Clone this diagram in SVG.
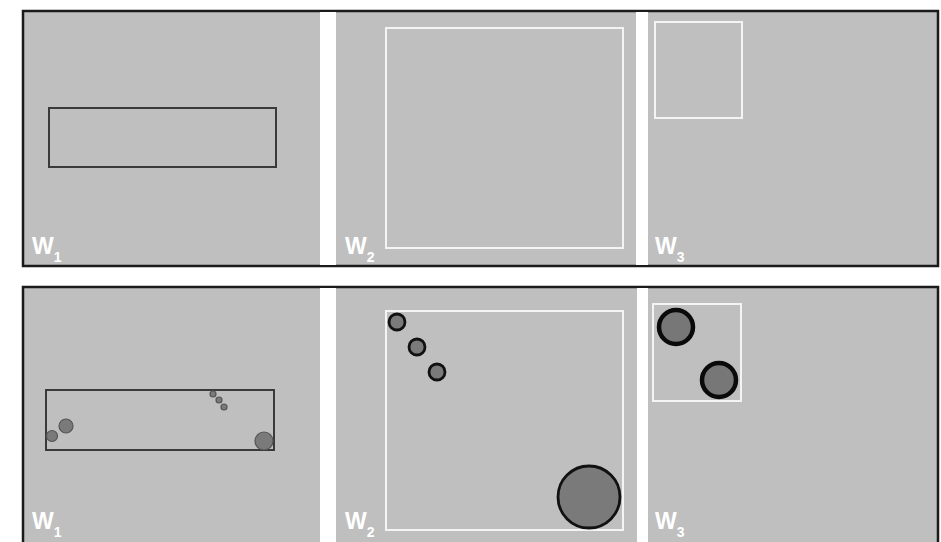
<svg xmlns="http://www.w3.org/2000/svg" width="941" height="542" viewBox="0 0 941 542">
<defs>
<style>
.panel{fill:#bfbfbf;stroke:#1a1a1a;stroke-width:2.5}
.sep{fill:#ffffff}
.dk{fill:none;stroke:#3a3a3a;stroke-width:2}
.wt{fill:none;stroke:#f4f4f4;stroke-width:2}
.lab{font-family:"Liberation Sans",Arial,sans-serif;font-weight:bold;fill:#ffffff}
.cs{fill:#7a7a7a;stroke:#555555;stroke-width:1.2}
.cm{fill:#7a7a7a;stroke:#111111;stroke-width:2.8}
.cb{fill:#777777;stroke:#0a0a0a;stroke-width:4.5}
</style>
</defs>
<rect width="941" height="542" fill="#ffffff"/>
<g id="top-panel">
<rect class="panel" x="23" y="11" width="915" height="255"/>
<rect class="sep" x="320" y="12" width="16" height="253"/>
<rect class="sep" x="636" y="12" width="12" height="253"/>
<rect class="dk" x="49" y="108" width="227" height="59"/>
<rect class="wt" x="386" y="28" width="237" height="220"/>
<rect class="wt" x="655" y="22" width="87" height="96"/>
<text class="lab" x="32" y="254" font-size="23">W<tspan font-size="14" dy="8">1</tspan></text>
<text class="lab" x="345" y="254" font-size="23">W<tspan font-size="14" dy="8">2</tspan></text>
<text class="lab" x="655" y="254" font-size="23">W<tspan font-size="14" dy="8">3</tspan></text>
</g>
<g id="bottom-panel">
<rect class="panel" x="23" y="287" width="915" height="260"/>
<rect class="sep" x="320" y="288" width="16" height="256"/>
<rect class="sep" x="637" y="288" width="11" height="256"/>
<g id="w1-bottom">
<rect class="dk" x="46" y="390" width="228" height="60"/>
<circle class="cs" cx="66" cy="426" r="7"/>
<circle class="cs" cx="52" cy="436" r="5.5"/>
<circle class="cs" cx="264" cy="441" r="9"/>
<circle class="cs" cx="213" cy="394" r="3"/>
<circle class="cs" cx="219" cy="400" r="3"/>
<circle class="cs" cx="224" cy="407" r="3"/>
</g>
<g id="w2-bottom">
<rect class="wt" x="386" y="311" width="237" height="219"/>
<circle class="cm" cx="397" cy="322" r="8"/>
<circle class="cm" cx="417" cy="347" r="8"/>
<circle class="cm" cx="437" cy="372" r="8"/>
<circle class="cm" cx="589" cy="497" r="31"/>
</g>
<g id="w3-bottom">
<rect class="wt" x="653" y="304" width="88" height="97"/>
<circle class="cb" cx="676" cy="327" r="17"/>
<circle class="cb" cx="719" cy="380" r="17"/>
</g>
<text class="lab" x="32" y="529" font-size="23">W<tspan font-size="14" dy="8">1</tspan></text>
<text class="lab" x="345" y="529" font-size="23">W<tspan font-size="14" dy="8">2</tspan></text>
<text class="lab" x="655" y="529" font-size="23">W<tspan font-size="14" dy="8">3</tspan></text>
</g>
</svg>
